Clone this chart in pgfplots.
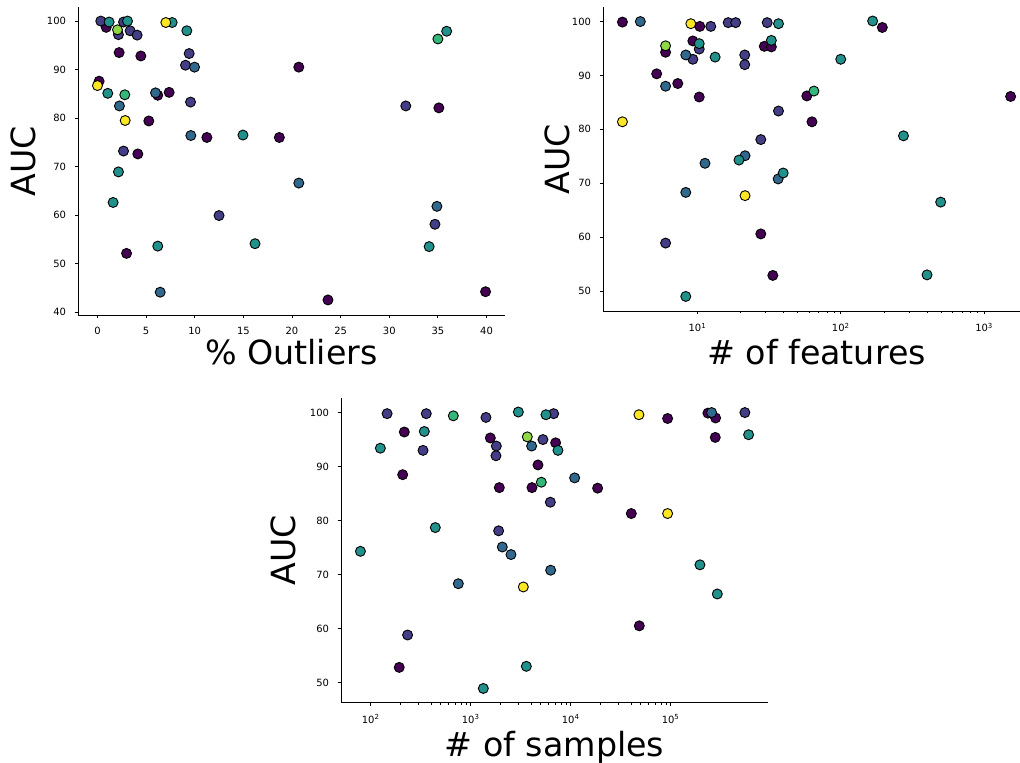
\documentclass[border=0pt]{standalone}
\usepackage{fontspec}
\setmainfont{DejaVu Sans}
\setsansfont{DejaVu Sans}
\usepackage{pgfplots}
\pgfplotsset{compat=1.18}
\definecolor{cP}{HTML}{440154}
\definecolor{cI}{HTML}{433E85}
\definecolor{cB}{HTML}{31688E}
\definecolor{cT}{HTML}{21918C}
\definecolor{cG}{HTML}{35B779}
\definecolor{cL}{HTML}{8FD744}
\definecolor{cY}{HTML}{FDE725}
\pgfplotsset{
  myax/.style={
    scale only axis,
    axis x line*=bottom, axis y line*=left,
    axis line style={-, line width=0.8bp, black},
    tick align=outside,
    major tick length=3.5bp, minor tick length=2bp,
    every tick/.style={black, line width=0.8bp},
    minor tick style={line width=0.6bp},
    tick label style={font=\fontsize{10}{12}\selectfont},
    xticklabel style={yshift=-5bp},
    yticklabel style={xshift=-5bp},
    /pgf/number format/assume math mode=true,
    label style={font=\fontsize{33.4}{40}\selectfont},
    xlabel style={anchor=base},
    ylabel style={anchor=base},
  },
  dot/.style={only marks, mark=*, mark size=5bp, mark options={draw=black, fill=#1, line width=0.9bp}},
}
\begin{document}
\begin{tikzpicture}
\useasboundingbox (0,0) rectangle (1020bp,763bp);
% ---------------- Plot 1: % Outliers
\begin{axis}[myax,
  at={(78bp,448bp)}, anchor=south west,
  width=427bp, height=308bp,
  xmin=-2, xmax=41.9, ymin=39.4, ymax=102.9,
  xtick={0,5,10,15,20,25,30,35,40},
  ytick={40,50,60,70,80,90,100},
  xlabel={\% Outliers}, ylabel={AUC},
  xlabel style={at={(axis description cs:0.5,-0.1623)}},
  ylabel style={at={(axis description cs:-0.0984,0.5)}},
]
\addplot[dot=cP] coordinates {(0.9,98.7)(2.23,93.5)(4.46,92.8)(20.7,90.5)(0.17,87.6)(6.2,84.7)(7.37,85.3)(5.28,79.4)(11.25,76.0)(18.7,76.0)(4.15,72.6)(35.1,82.1)(2.99,52.1)(23.7,42.5)(39.9,44.2)};
\addplot[dot=cI] coordinates {(0.34,100)(2.16,97.2)(2.68,99.8)(3.36,98.0)(4.08,97.1)(9.43,93.3)(9.05,90.9)(9.57,83.3)(2.68,73.2)(12.5,59.9)(31.7,82.5)(34.7,58.1)};
\addplot[dot=cB] coordinates {(9.98,90.5)(2.26,82.5)(5.97,85.2)(9.6,76.4)(20.7,66.6)(34.9,61.8)(6.45,44.1)};
\addplot[dot=cT] coordinates {(1.2,99.8)(3.09,100)(7.68,99.7)(9.19,98.0)(1.06,85.1)(14.96,76.5)(2.16,68.9)(1.61,62.6)(35.9,97.9)(34.1,53.5)(6.2,53.6)(16.2,54.1)};
\addplot[dot=cG] coordinates {(2.81,84.8)(35.0,96.3)};
\addplot[dot=cL] coordinates {(2.06,98.2)};
\addplot[dot=cY] coordinates {(7.03,99.7)(0,86.7)(2.85,79.5)};
\end{axis}
% ---------------- Plot 2: # of features
\begin{axis}[myax, xmode=log,
  at={(603bp,452bp)}, anchor=south west,
  width=427bp, height=304bp,
  xmin=2.196, xmax=2091, ymin=46.3, ymax=102.7,
  xtick={10,100,1000},
  xticklabels={10\textsuperscript{1},10\textsuperscript{2},10\textsuperscript{3}},
  ytick={50,60,70,80,90,100},
  xlabel={\# of features}, ylabel={AUC},
  xlabel style={at={(axis description cs:0.5,-0.1776)}},
  ylabel style={at={(axis description cs:-0.0796,0.5)}},
]
\addplot[dot=cP] coordinates {(3,99.9)(10.4,99.1)(195,98.9)(6,94.3)(9.3,96.4)(29.3,95.4)(32.8,95.3)(5.2,90.3)(7.3,88.5)(10.3,86.0)(58,86.2)(1531,86.1)(63,81.4)(27.7,60.6)(33.6,52.9)};
\addplot[dot=cI] coordinates {(12.4,99.1)(16.4,99.8)(18.5,99.8)(30.7,99.8)(10.3,94.9)(9.3,93.0)(21.4,93.8)(21.4,92.0)(36.8,83.4)(27.7,78.1)(6,58.9)};
\addplot[dot=cB] coordinates {(4,100)(8.3,93.8)(6,88.0)(21.5,75.1)(11.3,73.7)(36.6,70.8)(8.3,68.3)};
\addplot[dot=cT] coordinates {(36.8,99.6)(167,100.1)(10.3,95.9)(13.3,93.4)(32.8,96.5)(100,93.0)(274,78.8)(19.5,74.3)(39.7,71.9)(498,66.5)(400,53.0)(8.3,49.0)};
\addplot[dot=cG] coordinates {(65,87.1)};
\addplot[dot=cL] coordinates {(6,95.5)};
\addplot[dot=cY] coordinates {(9,99.6)(3,81.4)(21.5,67.7)};
\end{axis}
% ---------------- Plot 3: # of samples
\begin{axis}[myax, xmode=log,
  at={(341bp,60.5bp)}, anchor=south west,
  width=427bp, height=304.5bp,
  xmin=50.5, xmax=942000, ymin=46.3, ymax=102.7,
  xtick={100,1000,10000,100000},
  xticklabels={10\textsuperscript{2},10\textsuperscript{3},10\textsuperscript{4},10\textsuperscript{5}},
  ytick={50,60,70,80,90,100},
  xlabel={\# of samples}, ylabel={AUC},
  xlabel style={at={(axis description cs:0.5,-0.178)}},
  ylabel style={at={(axis description cs:-0.107,0.5)}},
]
\addplot[dot=cP] coordinates {(217,96.4)(209,88.5)(193,52.8)(1573,95.3)(1935,86.1)(4105,86.1)(4713,90.3)(7079,94.4)(18620,86.0)(40440,81.3)(48600,60.5)(93300,98.9)(236000,99.9)(281800,99.0)(279600,95.4)};
\addplot[dot=cI] coordinates {(146,99.8)(234,58.8)(334,93.0)(360,99.8)(1423,99.1)(1806,93.8)(1792,92.0)(1905,78.1)(5285,95.0)(6761,99.8)(6266,83.4)(553000,100)};
\addplot[dot=cB] coordinates {(753,68.3)(2073,75.1)(2532,73.7)(4074,93.8)(6310,70.8)(10965,87.9)(257000,100)};
\addplot[dot=cT] coordinates {(79,74.3)(125,93.4)(344,96.5)(443,78.7)(1339,48.9)(3000,100.1)(3606,53.0)(5667,99.6)(7470,93.0)(196500,71.8)(293000,66.4)(602600,95.9)};
\addplot[dot=cG] coordinates {(671,99.4)(5090,87.1)};
\addplot[dot=cL] coordinates {(3687,95.5)};
\addplot[dot=cY] coordinates {(3364,67.7)(48200,99.6)(93300,81.3)};
\end{axis}
\end{tikzpicture}
\end{document}
